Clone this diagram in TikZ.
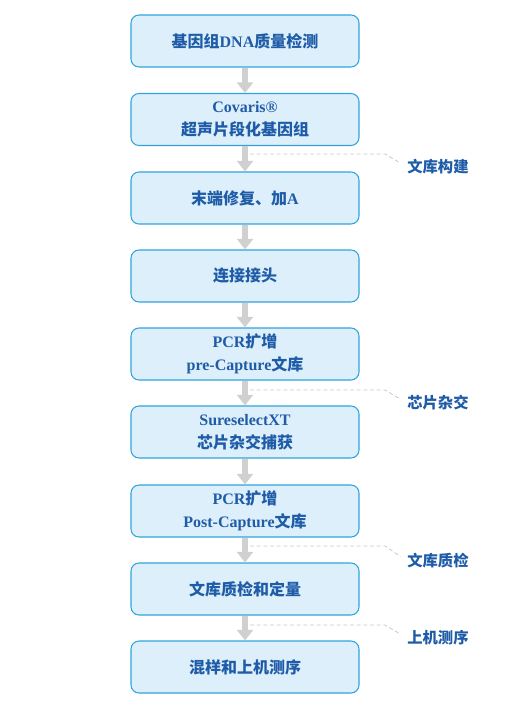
\documentclass[tikz,border=0pt]{standalone}
\usepackage{fontspec}
\setmainfont{Liberation Serif}
\newfontfamily\cjk{Noto Sans CJK SC}
\newcommand{\zh}[1]{{\cjk #1}}
\usetikzlibrary{arrows.meta}
\definecolor{boxfill}{HTML}{DDEFFA}
\definecolor{boxline}{HTML}{2FA4DC}
\definecolor{txtblue}{HTML}{1F5CA8}
\definecolor{flowgray}{HTML}{D0D0D0}
\definecolor{guidegray}{HTML}{C8C8C8}
\tikzset{
  stage/.style={draw=boxline, fill=boxfill, line width=0.8pt, rounded corners=6pt,
    minimum width=171pt, minimum height=39pt, align=center, text=txtblue,
    font=\bfseries\fontsize{12}{17}\selectfont},
  flow/.style={draw=flowgray, line width=5pt, -{Triangle[length=8pt,width=12pt]}},
  guide/.style={draw=guidegray, line width=0.6pt, dash pattern=on 3pt off 2pt, shorten >=6pt},
  phase/.style={anchor=west, inner sep=0pt, text=txtblue,
    font=\bfseries\fontsize{11.5}{14}\selectfont}
}
\begin{document}
\begin{tikzpicture}[x=0.75pt, y=-0.75pt]
    \useasboundingbox (0,0) rectangle (525,713);
    \node[stage] (b1) at (245,41) {\zh{基因组}DNA\zh{质量检测}};
    \node[stage] (b2) at (245,119.5) {Covaris®\\\zh{超声片段化基因组}};
    \node[stage] (b3) at (245,198) {\zh{末端修复、加}A};
    \node[stage] (b4) at (245,276) {\zh{连接接头}};
    \node[stage] (b5) at (245,354) {PCR\zh{扩增}\\pre-Capture\zh{文库}};
    \node[stage] (b6) at (245,432) {SureselectXT\\\zh{芯片杂交捕获}};
    \node[stage] (b7) at (245,511) {PCR\zh{扩增}\\Post-Capture\zh{文库}};
    \node[stage] (b8) at (245,589) {\zh{文库质检和定量}};
    \node[stage] (b9) at (245,667) {\zh{混样和上机测序}};
    \draw[flow] (b1) -- (b2);
    \draw[flow] (b2) -- (b3);
    \draw[flow] (b3) -- (b4);
    \draw[flow] (b4) -- (b5);
    \draw[flow] (b5) -- (b6);
    \draw[flow] (b6) -- (b7);
    \draw[flow] (b7) -- (b8);
    \draw[flow] (b8) -- (b9);
    % phase labels
    \node[phase] (t1) at (407,167) {\zh{文库构建}};
    \node[phase] (t2) at (407,403) {\zh{芯片杂交}};
    \node[phase] (t3) at (407,561) {\zh{文库质检}};
    \node[phase] (t4) at (407,638) {\zh{上机测序}};
    \coordinate (g1) at (250,154);
    \coordinate (g2) at (250,390);
    \coordinate (g3) at (250,546);
    \coordinate (g4) at (250,625);
    \draw[guide] (g1) -- ++(135,0) -- (t1.west);
    \draw[guide] (g2) -- ++(135,0) -- (t2.west);
    \draw[guide] (g3) -- ++(135,0) -- (t3.west);
    \draw[guide] (g4) -- ++(135,0) -- (t4.west);
\end{tikzpicture}
\end{document}
